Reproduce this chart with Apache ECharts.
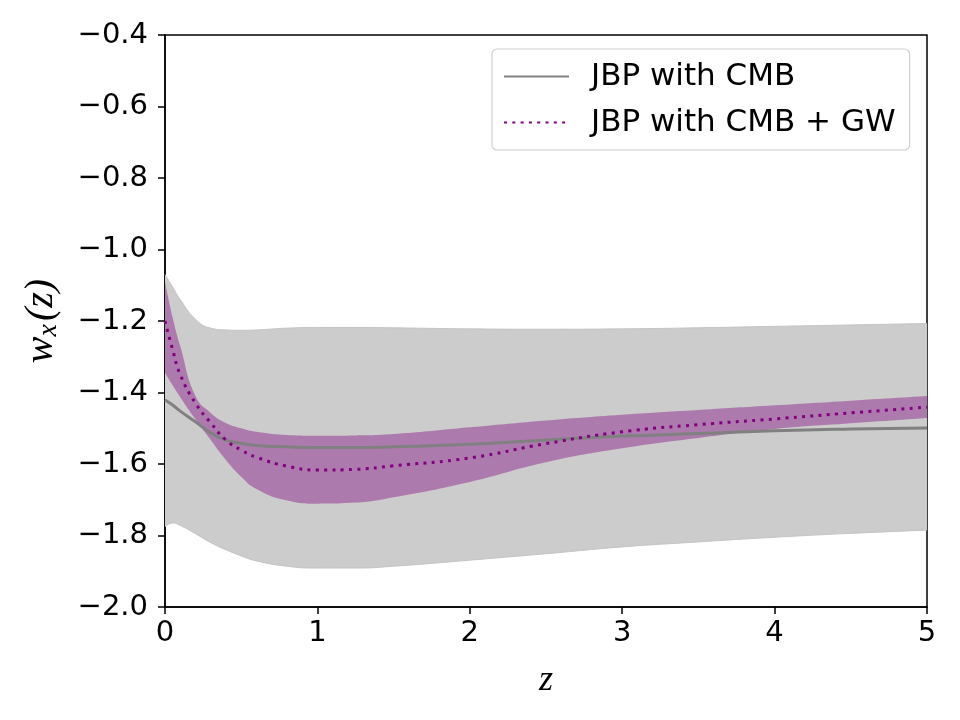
<!DOCTYPE html>
<html>
<head>
<meta charset="utf-8">
<script src="https://cdn.jsdelivr.net/npm/echarts@6/dist/echarts.min.js"></script>
<style>
  body { margin: 0; background: #fff; }
  #main { width: 960px; height: 720px; }
</style>
</head>
<body>
<div id="main"></div>
<script>
  // redshift grid
  var zs = [0, 0.05, 0.1, 0.2, 0.3, 0.4, 0.5, 0.6, 0.8, 1.0, 1.25, 1.5, 2, 2.5, 3, 3.5, 4, 4.5, 5];
  // JBP with CMB: median and band
  var cmbMid = [-1.421, -1.435, -1.452, -1.482, -1.513, -1.533, -1.542, -1.548, -1.552, -1.554, -1.554, -1.552, -1.545, -1.533, -1.522, -1.515, -1.507, -1.502, -1.499];
  var cmbUp  = [-1.07, -1.105, -1.14, -1.195, -1.22, -1.225, -1.226, -1.225, -1.22, -1.218, -1.218, -1.219, -1.222, -1.223, -1.222, -1.219, -1.215, -1.211, -1.207];
  var cmbLow = [-1.776, -1.765, -1.772, -1.795, -1.82, -1.84, -1.857, -1.871, -1.886, -1.891, -1.891, -1.886, -1.869, -1.851, -1.832, -1.818, -1.805, -1.794, -1.785];
  // JBP with CMB + GW
  var gwMid = [-1.2, -1.28, -1.35, -1.43, -1.485, -1.533, -1.561, -1.581, -1.606, -1.617, -1.615, -1.605, -1.583, -1.543, -1.51, -1.49, -1.474, -1.457, -1.441];
  var gwUp  = [-1.09, -1.19, -1.27, -1.41, -1.457, -1.485, -1.5, -1.51, -1.519, -1.521, -1.52, -1.516, -1.497, -1.478, -1.462, -1.449, -1.436, -1.423, -1.41];
  var gwLow = [-1.345, -1.38, -1.413, -1.475, -1.533, -1.589, -1.636, -1.67, -1.702, -1.711, -1.708, -1.693, -1.65, -1.595, -1.556, -1.527, -1.502, -1.486, -1.471];

  function pairs(ys) {
    return zs.map(function (z, i) { return [z, ys[i]]; });
  }
  // band rows are [value, z] so the stacked dimension is the y value
  function base(low) {
    return zs.map(function (z, i) { return [low[i], z]; });
  }
  function diff(up, low) {
    return zs.map(function (z, i) { return [up[i] - low[i], z]; });
  }
  function minus(v) {
    return String(v).replace('-', '\u2212');
  }

  var chart = echarts.init(document.getElementById('main'));
  var tickFont = { fontFamily: 'DejaVu Sans', fontSize: 29, color: '#000' };
  var bandEncode = { x: 1, y: 0 };
  var sm = 0.5;

  chart.setOption({
    animation: false,
    grid: {
      left: 165, right: 33, top: 35, bottom: 113,
      show: true, borderColor: '#000', borderWidth: 1.5
    },
    legend: {
      data: ['JBP with CMB', 'JBP with CMB + GW'],
      orient: 'vertical',
      left: 492, top: 49,
      padding: [12, 14, 12, 11],
      itemWidth: 65, itemHeight: 14, itemGap: 15,
      backgroundColor: 'rgba(255,255,255,0.8)',
      borderColor: '#d0d0d0', borderWidth: 1.2, borderRadius: 5,
      itemStyle: { opacity: 0 },
      textStyle: { fontFamily: 'DejaVu Sans', fontSize: 31, color: '#000', lineHeight: 31, padding: [0, 0, 0, 17] }
    },
    xAxis: {
      type: 'value', min: 0, max: 5, interval: 1,
      name: 'z', nameLocation: 'middle', nameGap: 56,
      nameTextStyle: { fontFamily: 'Liberation Serif', fontStyle: 'italic', fontSize: 36, color: '#000' },
      axisLine: { show: true, lineStyle: { color: '#000', width: 1.5 } },
      axisTick: { show: true, length: 7, lineStyle: { color: '#000', width: 1.5 } },
      axisLabel: Object.assign({ margin: 12 }, tickFont),
      splitLine: { show: false }
    },
    yAxis: {
      type: 'value', min: -2, max: -0.4, interval: 0.2,
      name: '{a|w}{s|x}{a|(z)}', nameLocation: 'middle', nameGap: 102, nameRotate: 90,
      nameTextStyle: {
        rich: {
          a: { fontFamily: 'Liberation Serif', fontStyle: 'italic', fontSize: 40, color: '#000' },
          s: { fontFamily: 'Liberation Serif', fontStyle: 'italic', fontSize: 28, color: '#000', padding: [15, 3, 0, 0] }
        }
      },
      axisLine: { show: true, lineStyle: { color: '#000', width: 1.5 } },
      axisTick: { show: true, length: 7, lineStyle: { color: '#000', width: 1.5 } },
      axisLabel: Object.assign({ margin: 17, formatter: function (v) { return minus(v.toFixed(1)); } }, tickFont),
      splitLine: { show: false }
    },
    series: [
      { name: 'cmbBase', type: 'line', stack: 'cmb', stackStrategy: 'all', data: base(cmbLow), encode: bandEncode,
        smooth: sm, symbol: 'none', lineStyle: { color: '#c4c4c4', width: 1 }, z: 1, silent: true },
      { name: 'cmbBand', type: 'line', stack: 'cmb', stackStrategy: 'all', data: diff(cmbUp, cmbLow), encode: bandEncode,
        smooth: sm, symbol: 'none', lineStyle: { color: '#c4c4c4', width: 1 }, areaStyle: { color: '#cccccc', opacity: 1 }, z: 1, silent: true },
      { name: 'gwBase', type: 'line', stack: 'gw', stackStrategy: 'all', data: base(gwLow), encode: bandEncode,
        smooth: sm, symbol: 'none', lineStyle: { opacity: 0 }, z: 2, silent: true },
      { name: 'gwBand', type: 'line', stack: 'gw', stackStrategy: 'all', data: diff(gwUp, gwLow), encode: bandEncode,
        smooth: sm, symbol: 'none', lineStyle: { opacity: 0 }, areaStyle: { color: 'rgba(128,0,128,0.4)', opacity: 1 }, z: 2, silent: true },
      { name: 'JBP with CMB', type: 'line', data: pairs(cmbMid), smooth: sm, symbol: 'none',
        itemStyle: { color: '#808080' },
        lineStyle: { color: '#808080', width: 3 }, z: 3 },
      { name: 'JBP with CMB + GW', type: 'line', data: pairs(gwMid), smooth: sm, symbol: 'none',
        itemStyle: { color: '#800080' },
        lineStyle: { color: '#800080', width: 3, type: [3, 5.3], cap: 'butt' }, z: 4 }
    ]
  });
</script>
</body>
</html>
